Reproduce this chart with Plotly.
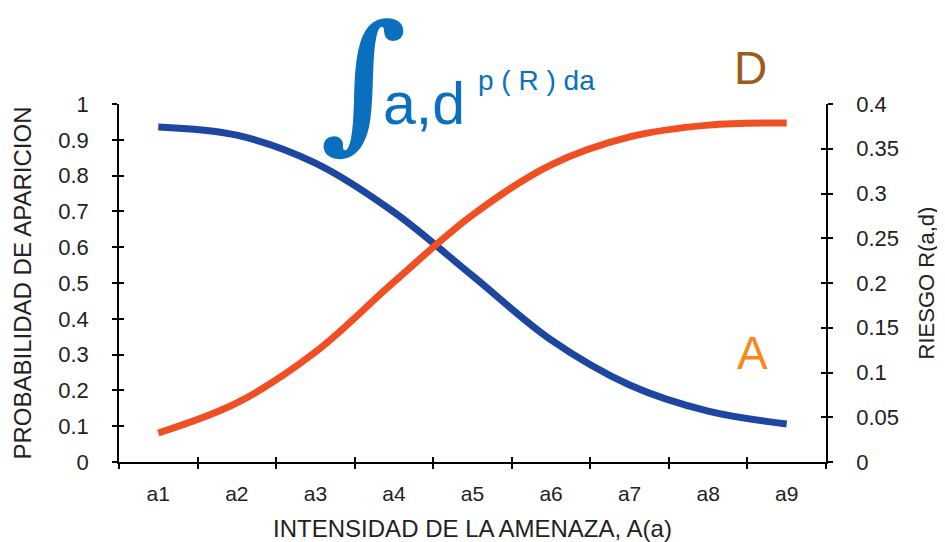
import plotly.graph_objects as go

categories = ["a1", "a2", "a3", "a4", "a5", "a6", "a7", "a8", "a9"]
prob_decreasing = [0.936, 0.913, 0.835, 0.698, 0.520, 0.341, 0.215, 0.142, 0.106]
prob_increasing = [0.081, 0.165, 0.307, 0.503, 0.690, 0.830, 0.908, 0.941, 0.947]

left_ticks = [round(i * 0.1, 1) for i in range(11)]
right_ticks = [round(i * 0.05, 2) for i in range(9)]

BLUE = "#1D46A0"
ORANGE = "#F04E23"
FONT = "Liberation Sans, Arial, sans-serif"

# the page body has an 8px default margin: shrink the figure so the plot area lands in place
OFF = 8
W, H = 945 - OFF, 542 - OFF
L, R, T, B = 119 - OFF, 119, 104 - OFF, 80

fig = go.Figure()
fig.add_trace(go.Scatter(x=categories, y=prob_decreasing, mode="lines",
                         line=dict(color=BLUE, width=7, shape="spline", smoothing=1.0),
                         showlegend=False))
fig.add_trace(go.Scatter(x=categories, y=prob_increasing, mode="lines",
                         line=dict(color=ORANGE, width=7, shape="spline", smoothing=1.0),
                         showlegend=False))

axis_common = dict(showgrid=False, zeroline=False, showline=True, linecolor="black",
                   linewidth=1.5, ticks="outside", ticklen=5, tickcolor="black", tickwidth=1.5,
                   automargin=False)

fig.update_layout(
    width=W, height=H,
    margin=dict(l=L, r=R, t=T, b=B),
    paper_bgcolor="white", plot_bgcolor="white",
    font=dict(family=FONT, color="#222222"),
    xaxis=dict(**axis_common, type="category", range=[-0.5, 8.5], tickson="boundaries",
               categoryorder="array", categoryarray=categories,
               tickfont=dict(size=21), ticklabelstandoff=12,
               title=dict(text="INTENSIDAD DE LA AMENAZA, A(a)", font=dict(size=24), standoff=16)),
    yaxis=dict(**axis_common, range=[0, 1], tickvals=left_ticks,
               ticktext=[("%g" % v) for v in left_ticks], tickfont=dict(size=22),
               ticklabelstandoff=19,
               title=dict(text="PROBABILIDAD DE APARICION", font=dict(size=24), standoff=20)),
    yaxis2=dict(**axis_common, overlaying="y", side="right", range=[0, 0.4],
                tickvals=right_ticks, ticktext=[("%g" % v) for v in right_ticks],
                tickfont=dict(size=22), ticklabelstandoff=19,
                title=dict(text="RIESGO R(a,d)", font=dict(size=22), standoff=21)),
    # inner halves of the crossing tick marks
    xaxis2=dict(overlaying="x", type="category", range=[-0.5, 8.5], tickson="boundaries",
                categoryorder="array", categoryarray=categories, showgrid=False,
                zeroline=False, showline=False, ticks="inside", ticklen=5, tickcolor="black",
                tickwidth=1.5, showticklabels=False, anchor="y", side="bottom"),
    yaxis3=dict(overlaying="y", range=[0, 1], tickvals=left_ticks, showticklabels=False,
                showgrid=False, zeroline=False, showline=False, ticks="inside",
                ticklen=5, tickcolor="black", tickwidth=1.5, side="left"),
    yaxis4=dict(overlaying="y", range=[0, 0.4], tickvals=right_ticks, showticklabels=False,
                showgrid=False, zeroline=False, showline=False, ticks="inside",
                ticklen=5, tickcolor="black", tickwidth=1.5, side="right"),
)

# invisible helper traces to activate the secondary axes
for xa, ya in (("x2", "y3"), ("x2", "y4"), ("x", "y2")):
    fig.add_trace(go.Scatter(x=categories[:1], y=[0], xaxis=xa, yaxis=ya, mode="markers",
                             marker=dict(opacity=0), showlegend=False, hoverinfo="skip"))

def px(xp):
    return (xp - 119) / 707.0

def py(yp):
    return (462 - yp) / 358.0

INT_BLUE = "#0A6FBE"
fig.add_annotation(text="<b>∫</b>", xref="paper", yref="paper", x=px(363), y=py(79),
                   showarrow=False, font=dict(family="DejaVu Serif", size=150, color=INT_BLUE),
                   xanchor="center", yanchor="middle")
fig.add_annotation(text="a,d", xref="paper", yref="paper", x=px(381), y=py(104),
                   showarrow=False, font=dict(family=FONT, size=59, color=INT_BLUE),
                   xanchor="left", yanchor="middle")
fig.add_annotation(text="p ( R ) da", xref="paper", yref="paper", x=px(476), y=py(80),
                   showarrow=False, font=dict(family=FONT, size=28, color=INT_BLUE),
                   xanchor="left", yanchor="middle")
fig.add_annotation(text="D", xref="paper", yref="paper", x=px(750), y=py(68),
                   showarrow=False, font=dict(family=FONT, size=46, color="#9C5B1C"),
                   xanchor="center", yanchor="middle")
fig.add_annotation(text="A", xref="paper", yref="paper", x=px(752), y=py(353),
                   showarrow=False, font=dict(family=FONT, size=46, color="#F7891F"),
                   xanchor="center", yanchor="middle")

fig.write_html("out.html")
